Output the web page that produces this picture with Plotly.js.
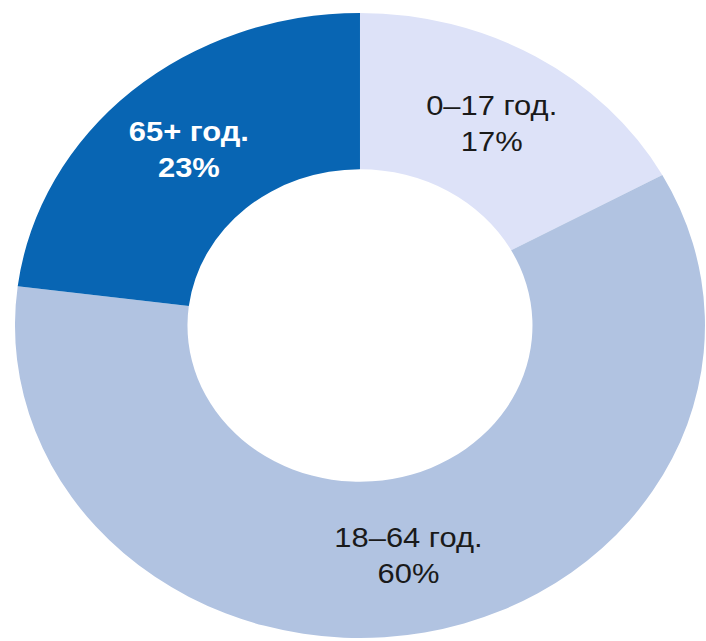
<!DOCTYPE html>
<html>
<head>
<meta charset="utf-8">
<script src="https://cdn.plot.ly/plotly-3.0.1.min.js"></script>
<style>
html, body { margin: 0; padding: 0; background: #ffffff; overflow: hidden; width: 706px; height: 641px; }
#chart { width: 640px; height: 641px; transform-origin: 0 0; transform: matrix(1.104, 0, 0, 1, 6.7, 0); }
</style>
</head>
<body>
<div id="chart"></div>
<script>
const categories = ["0–17 год.", "18–64 год.", "65+ год."];
const shares = [17, 60, 23];
const sliceColors = ["#dde2f8", "#b1c3e1", "#0865b3"];
const labelColors = ["#1a1a1a", "#1a1a1a", "#ffffff"];
const labelTemplates = [
  "%{label}<br>%{percent}",
  "%{label}<br>%{percent}",
  "<b>%{label}</b><br><b>%{percent}</b>"
];

const trace = {
  type: "pie",
  labels: categories,
  values: shares,
  hole: 0.5,
  sort: false,
  direction: "clockwise",
  rotation: 0,
  marker: { colors: sliceColors, line: { width: 0 } },
  texttemplate: labelTemplates,
  textposition: "inside",
  insidetextorientation: "horizontal",
  textfont: { family: "Arial, Liberation Sans, sans-serif", size: 28, color: labelColors },
  hoverinfo: "none",
  showlegend: false
};

const layout = {
  width: 640,
  height: 641,
  margin: { l: 0, r: 0, t: 13, b: 3, pad: 0 },
  paper_bgcolor: "#ffffff",
  plot_bgcolor: "#ffffff",
  showlegend: false,
  uniformtext: { mode: false }
};

Plotly.newPlot("chart", [trace], layout, { displayModeBar: false, staticPlot: true });
</script>
</body>
</html>
